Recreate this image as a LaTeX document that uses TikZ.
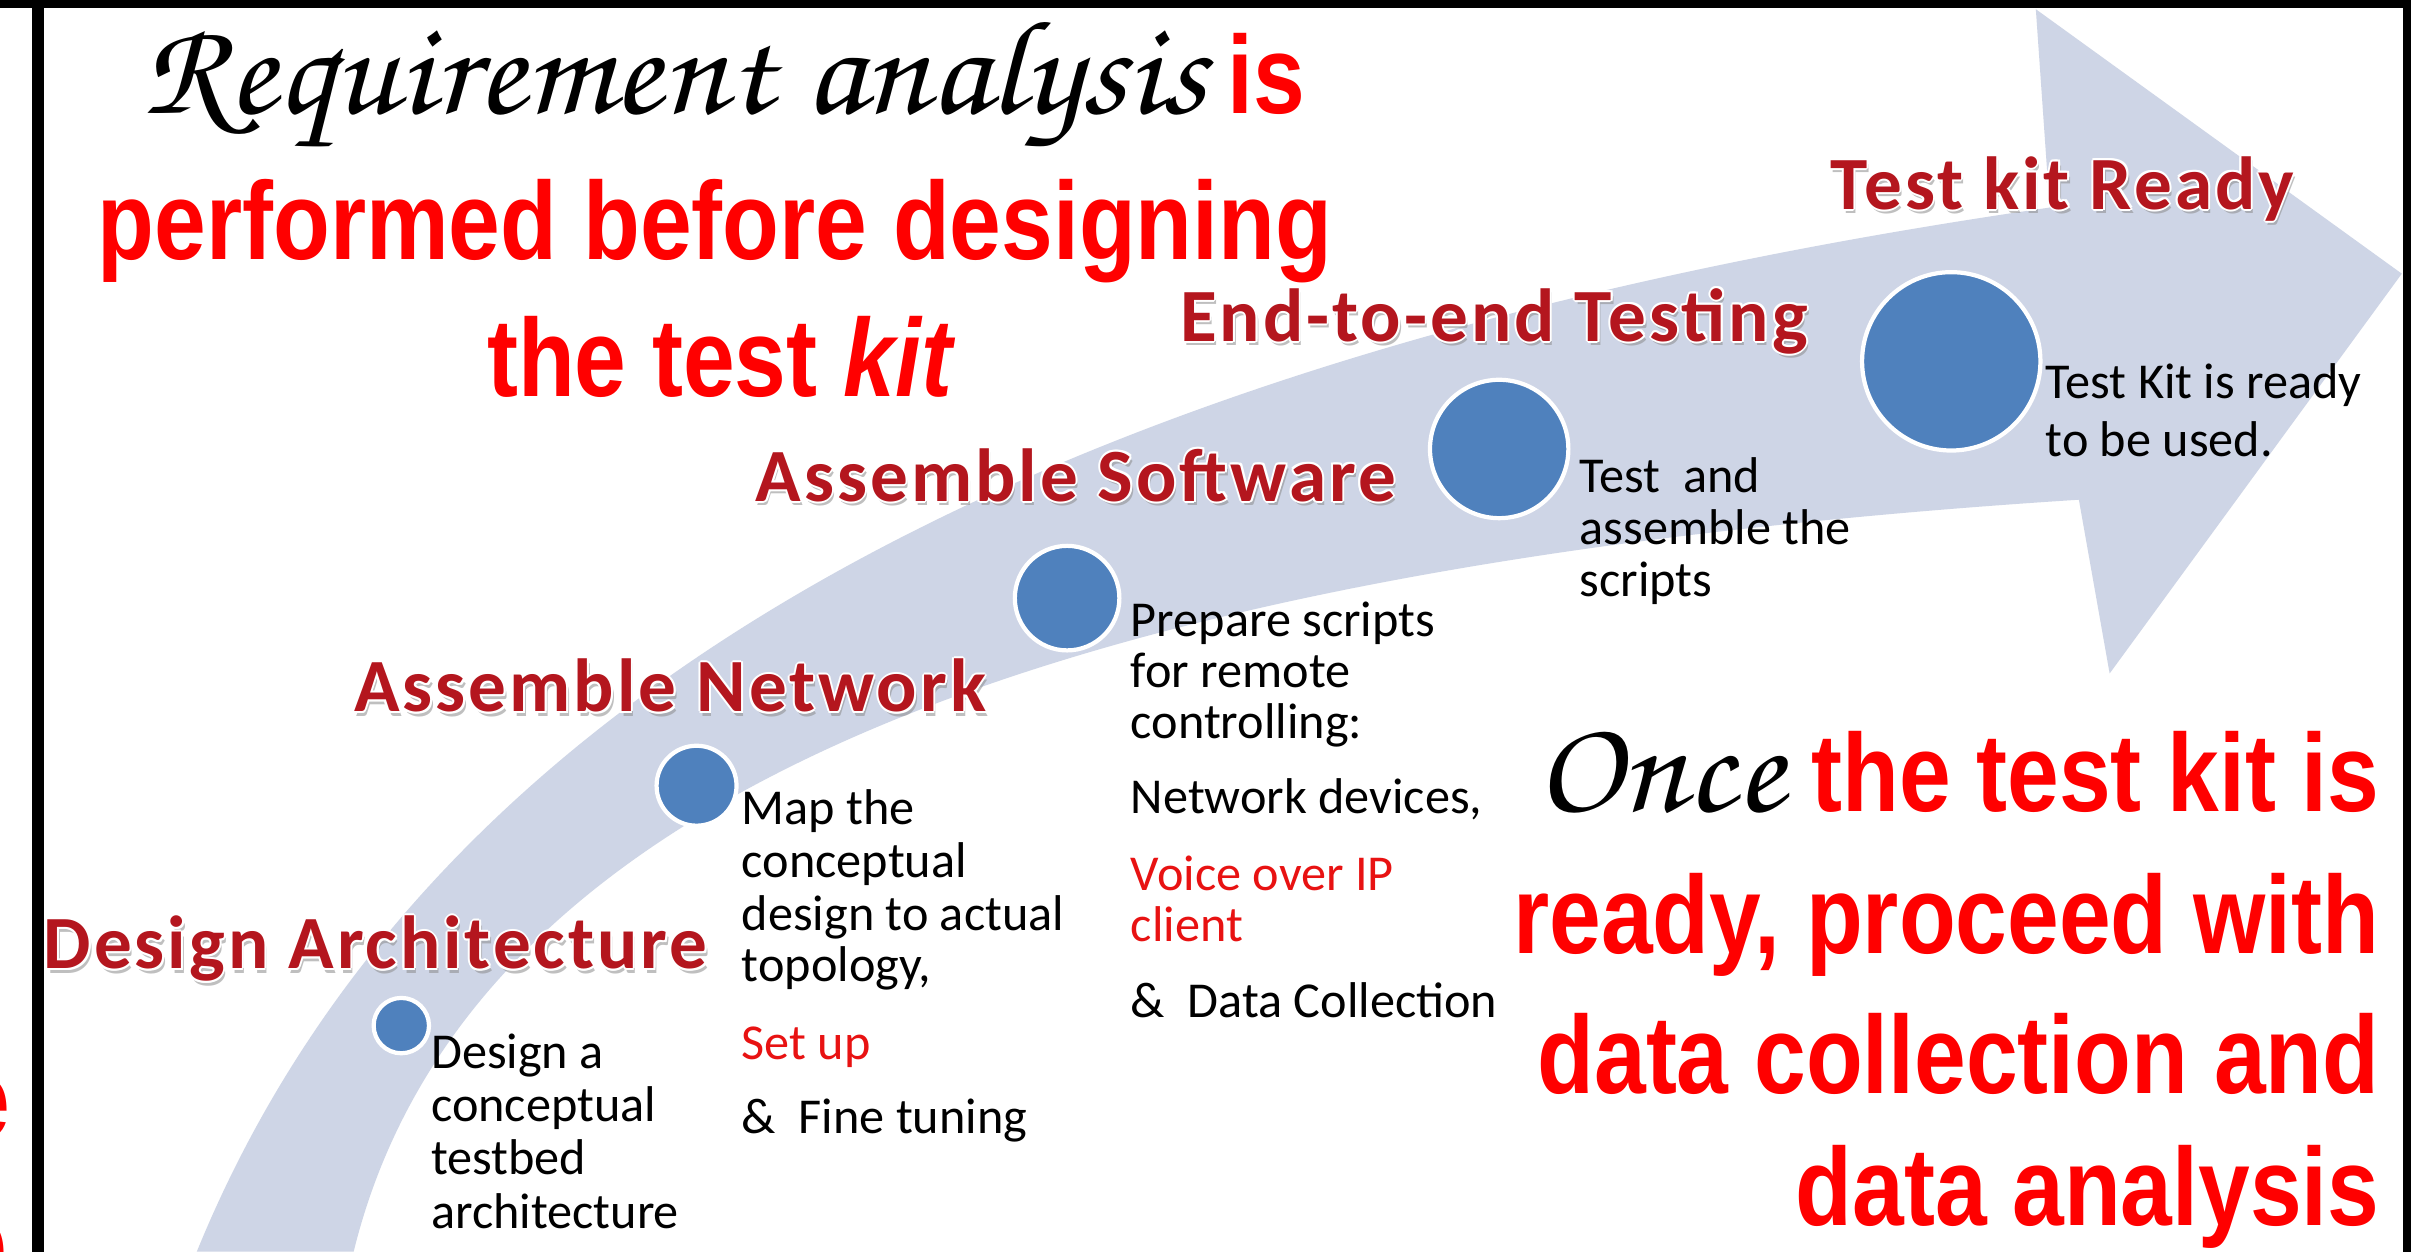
\documentclass[tikz,border=0pt]{standalone}
\usepackage[T1]{fontenc}
\usepackage{fontspec}
\setmainfont{Carlito}
\newfontfamily\redfont[FakeStretch=0.84]{Liberation Sans}
\newfontfamily\headfont[LetterSpace=4]{Carlito}
\newcommand\handfont{\fontencoding{T1}\fontfamily{pzc}\fontseries{mb}\fontshape{it}}
\definecolor{bandc}{RGB}{206,213,230}
\definecolor{dotc}{RGB}{79,129,189}
\definecolor{headc}{RGB}{180,22,30}
\definecolor{bred}{RGB}{255,0,0}
\definecolor{tred}{RGB}{232,18,18}
\newcommand\headingat[4]{%
  \node[hshadow] (#1s) at (#2+1.5,#3+2.8) {#4};
  \foreach \dx/\dy [count=\k] in {1.3/0,-1.3/0,0/1.3,0/-1.3,0.9/0.9,-0.9/0.9,0.9/-0.9,-0.9/-0.9}
    {\node[hglow] (#1g\k) at (#2+\dx,#3+\dy) {#4};}
  \node[heading] (#1) at (#2,#3) {#4};}
\begin{document}
\begin{tikzpicture}[x=0.015376cm,y=-0.015376cm,
  body/.style={font=\fontsize{14.3}{15}\selectfont, inner sep=0, anchor=base west},
  bodyred/.style={body, text=tred},
  hfont/.style={font=\headfont\bfseries\fontsize{21.4}{24}\selectfont, inner sep=0, anchor=base west},
  heading/.style={hfont, text=headc},
  hshadow/.style={hfont, text=black!45, opacity=0.55},
  hglow/.style={hfont, text=white},
  bigred/.style={font=\redfont\bfseries\fontsize{31.5}{36}\selectfont, text=bred, inner sep=0},
  hand/.style={font=\handfont\fontsize{38.2}{44}\selectfont, inner sep=0, anchor=base west},
  dot/.style={circle, fill=dotc, draw=white, line width=1.2pt, inner sep=0}
]
\useasboundingbox (0,0) rectangle (1568,814);
\fill[white] (0,0) rectangle (1568,814);
% curved arrow
\fill[bandc] (128,814) .. controls (250,515) and (570,245) .. (1333,135)
  -- (1324,6) -- (1562,178) -- (1372,438) -- (1352,325)
  .. controls (650,370) and (300,530) .. (230,814) -- cycle;
% milestone dots
\node[dot, minimum size=36*0.015376cm] (c1) at (261,667) {};
\node[dot, minimum size=52*0.015376cm] (c2) at (453,511) {};
\node[dot, minimum size=68*0.015376cm] (c3) at (694,389) {};
\node[dot, minimum size=90*0.015376cm] (c4) at (975,292) {};
\node[dot, minimum size=116*0.015376cm] (c5) at (1269,235) {};
% headings
\headingat{hready}{1190}{136}{Test kit Ready}
\headingat{hend}{767}{222}{End-to-end Testing}
\headingat{hsoft}{491}{326}{Assemble Software}
\headingat{hnet}{230}{463}{Assemble Network}
\headingat{harch}{28}{630}{Design Architecture}
% step descriptions
\node[body] (a1) at (280,695) {Design a};
\node[body] (a2) at (280,729.5) {conceptual};
\node[body] (a3) at (280,764) {testbed};
\node[body] (a4) at (280,799) {architecture};
\node[body] (b1) at (482,536) {Map the};
\node[body] (b2) at (482,571) {conceptual};
\node[body] (b3) at (482,605) {design to actual};
\node[body] (b4) at (482,638) {topology,};
\node[bodyred] (b5) at (482,689) {Set up};
\node[body] (b6) at (482,737) {\&\ \ Fine tuning};
\node[body] (s1) at (735,414) {Prepare scripts};
\node[body] (s2) at (735,447) {for remote};
\node[body] (s3) at (735,480) {controlling:};
\node[body] (s4) at (735,529) {Network devices,};
\node[bodyred] (s5) at (735,579) {Voice over IP};
\node[bodyred] (s6) at (735,612) {client};
\node[body] (s7) at (735,662) {\&\ \ Data Collection};
\node[body] (e1) at (1027,320) {Test\ \ and};
\node[body] (e2) at (1027,354) {assemble the};
\node[body] (e3) at (1027,388) {scripts};
\node[body] (r1) at (1330,259) {Test Kit is ready};
\node[body] (r2) at (1330,297) {to be used.};
% top-left statement
\node[hand] (req) at (92,74) {\scalebox{1.063}[1]{Requirement analysis}};
\node[bigred, anchor=base west] (is) at (798,74) {is};
\node[bigred, anchor=base] (perf) at (465,169) {performed before designing};
\node[bigred, anchor=base] (kit) at (469,258) {the test \textit{kit}};
% bottom-right statement
\node[hand] (once) at (998,528) {\scalebox{1.063}[1]{Once}};
\node[bigred, anchor=base east] (o1) at (1548,528) {the test kit is};
\node[bigred, anchor=base east] (o2) at (1548,620) {ready, proceed with};
\node[bigred, anchor=base east] (o3) at (1548,711) {data collection and};
\node[bigred, anchor=base east] (o4) at (1548,797) {data analysis};
% cut-off fragments left of the frame
\begin{scope}
\clip (0,0) rectangle (21,814);
\node[bigred, anchor=base east] (fa) at (7,740) {e};
\node[bigred, anchor=base east] (fb) at (5,833) {e};
\end{scope}
% frame lines
\fill[black] (0,0) rectangle (1568,5);
\fill[black] (21,0) rectangle (28.5,814);
\fill[black] (1563,0) rectangle (1568,814);
\end{tikzpicture}
\end{document}
